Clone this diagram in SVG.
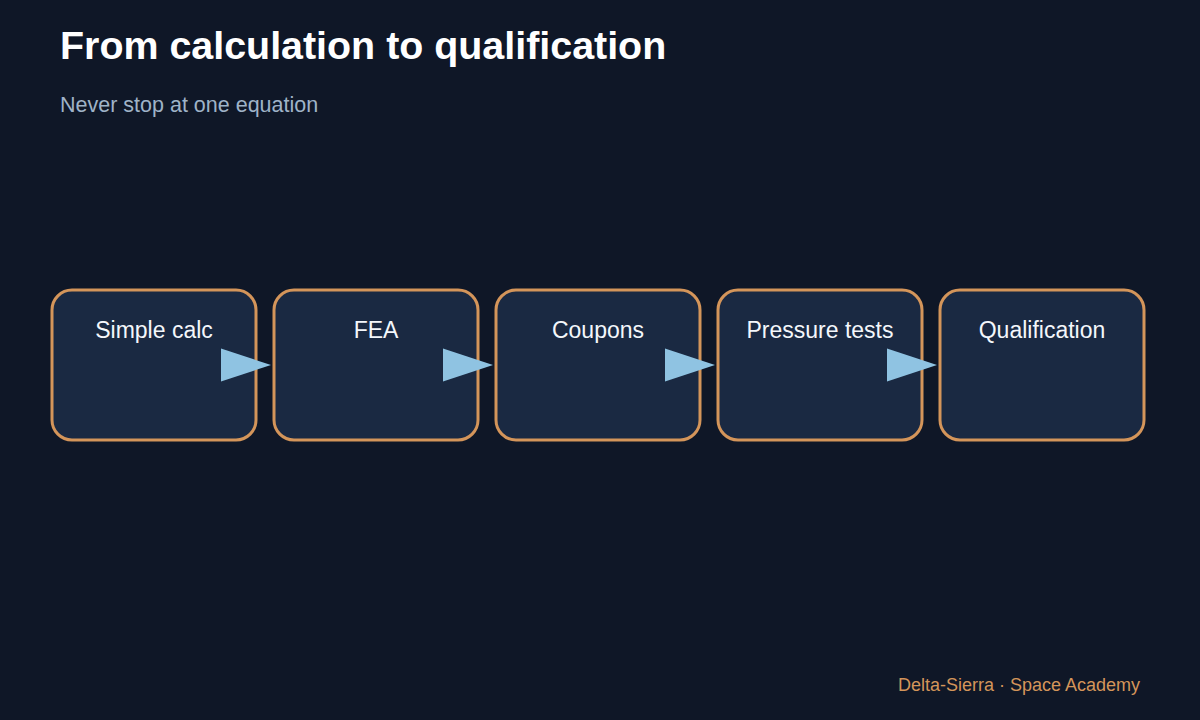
<svg xmlns="http://www.w3.org/2000/svg" width="1200" height="720" viewBox="0 0 1200 720">
<style>
.node rect{fill:#1a2942;stroke:#d4955a;stroke-width:3}
.node text{font-family:"Liberation Sans",Arial,sans-serif;font-size:23px;fill:#f4f7fb;text-anchor:middle}
.arrow{fill:#8fc3e2}
.title{font-family:"Liberation Sans",Arial,sans-serif;font-weight:bold;font-size:39.4px;fill:#ffffff}
.sub{font-family:"Liberation Sans",Arial,sans-serif;font-size:21.5px;fill:#9fb3c8}
.foot{font-family:"Liberation Sans",Arial,sans-serif;font-size:18px;fill:#d4955a;text-anchor:end}
</style>
<rect width="1200" height="720" fill="#0f1727"/>
<text class="title" x="60" y="59">From calculation to qualification</text>
<text class="sub" x="60" y="112">Never stop at one equation</text>
<g id="node-simple-calc" class="node"><rect x="52" y="290" width="204" height="150" rx="20"/><text x="154" y="338">Simple calc</text></g>
<g id="node-fea" class="node"><rect x="274" y="290" width="204" height="150" rx="20"/><text x="376" y="338">FEA</text></g>
<g id="node-coupons" class="node"><rect x="496" y="290" width="204" height="150" rx="20"/><text x="598" y="338">Coupons</text></g>
<g id="node-pressure-tests" class="node"><rect x="718" y="290" width="204" height="150" rx="20"/><text x="820" y="338">Pressure tests</text></g>
<g id="node-qualification" class="node"><rect x="940" y="290" width="204" height="150" rx="20"/><text x="1042" y="338">Qualification</text></g>
<g id="connectors">
<polygon class="arrow" points="221,348.5 271,365 221,381.5"/>
<polygon class="arrow" points="443,348.5 493,365 443,381.5"/>
<polygon class="arrow" points="665,348.5 715,365 665,381.5"/>
<polygon class="arrow" points="887,348.5 937,365 887,381.5"/>
</g>
<text class="foot" x="1140" y="691">Delta-Sierra · Space Academy</text>
</svg>
